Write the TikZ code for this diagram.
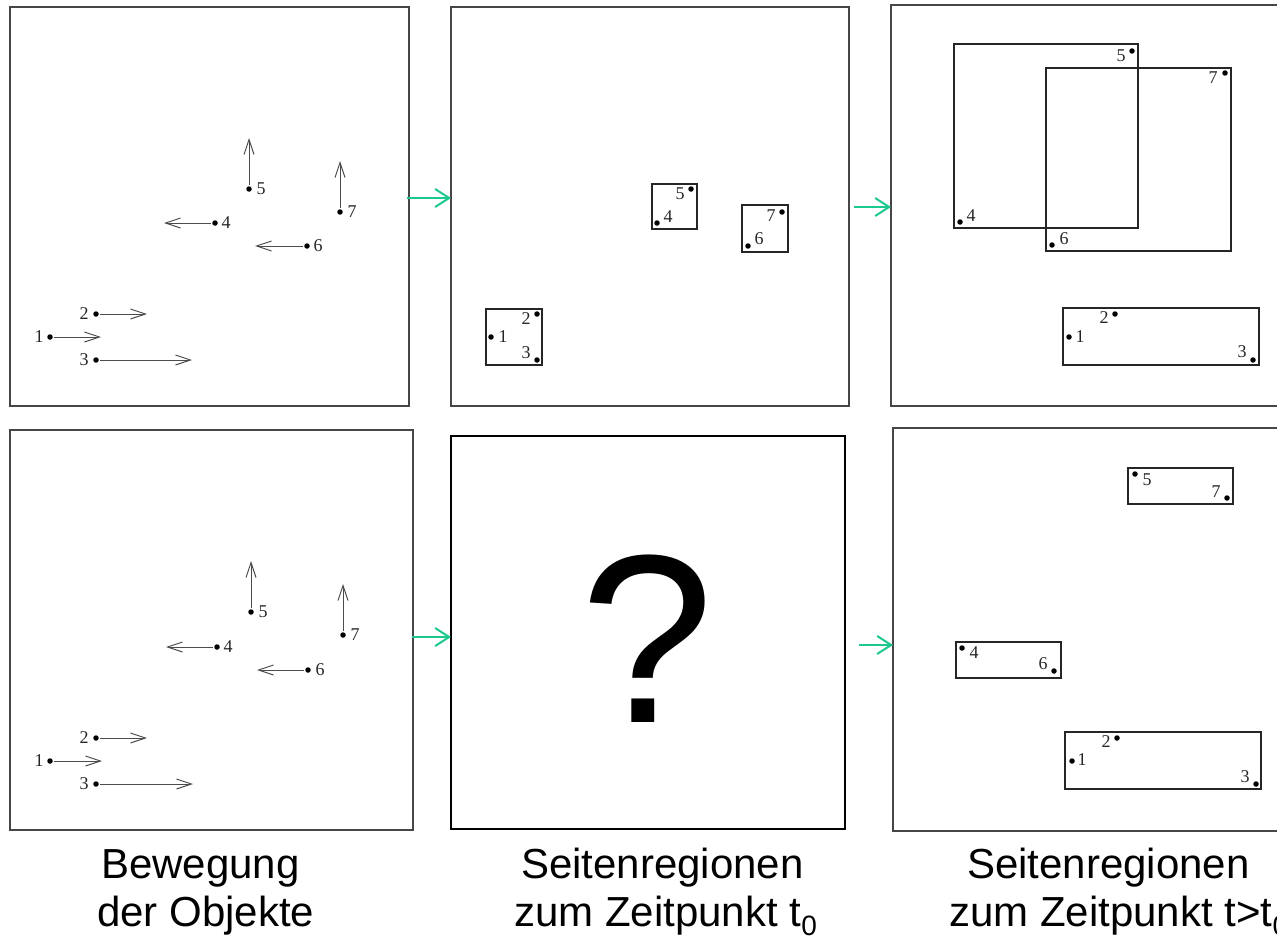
\documentclass[tikz,border=0pt]{standalone}
\usepackage{fontspec}
\setmainfont{Liberation Sans}
\newfontfamily\lbfont{Liberation Serif}
\newfontfamily\capfont{Liberation Sans}
\usetikzlibrary{arrows.meta,calc}
\definecolor{flowgreen}{RGB}{28,200,140}
\definecolor{framegrey}{RGB}{70,70,70}
\newcommand{\subzero}{\raisebox{-0.22em}{\fontsize{28pt}{28pt}\selectfont 0}}
\tikzset{
  panel/.style={draw=framegrey, line width=1.3pt, inner sep=0pt, outer sep=0pt, rectangle},
  bigpanel/.style={draw=black, line width=2.6pt, inner sep=0pt, outer sep=0pt, rectangle},
  region/.style={draw=black!85, line width=1.2pt},
  obj/.style={circle, fill=black, inner sep=0pt, minimum size=5.5pt, outer sep=1.5pt},
  lbl/.style={font={\lbfont\fontsize{18pt}{20pt}\selectfont}, inner sep=0pt, text=black!85},
  mv/.style={draw=black!70, line width=1pt, -{Straight Barb[length=15pt,width=10pt]}},
  flow/.style={draw=flowgreen, line width=2pt, -{Straight Barb[length=14pt,width=18pt]}},
  captext/.style={font={\capfont\fontsize{42pt}{48pt}\selectfont}, inner sep=0pt, anchor=base west},
}
\begin{document}
\begin{tikzpicture}[x=1pt,y=-1pt]
\useasboundingbox (0,0) rectangle (1277,939);
\clip (0,0) rectangle (1277,939);
% panels
\node[panel, minimum width=399pt, minimum height=399pt] (P1) at (209.5,206.5) {};
\node[panel, minimum width=398pt, minimum height=399pt] (P2) at (650,206.5) {};
\node[panel, minimum width=400pt, minimum height=401pt] (P3) at (1091,205.5) {};
\node[panel, minimum width=403pt, minimum height=400pt] (P4) at (211.5,630) {};
\node[bigpanel, minimum width=394pt, minimum height=393pt] (P5) at (648,632.5) {};
\node[panel, minimum width=400pt, minimum height=403pt] (P6) at (1093,629.5) {};

% ---------- top-left: movement ----------
\node[obj] (a1) at (50,337) {};
\node[obj] (a2) at (96,314) {};
\node[obj] (a3) at (96,360) {};
\node[obj] (a4) at (215,223) {};
\node[obj] (a5) at (249,189) {};
\node[obj] (a6) at (307,246) {};
\node[obj] (a7) at (340,212) {};
\coordinate (ta1) at (101,337);
\coordinate (ta2) at (147,314);
\coordinate (ta3) at (192,360);
\coordinate (ta4) at (164,223);
\coordinate (ta5) at (249,138);
\coordinate (ta6) at (255,246);
\coordinate (ta7) at (340,161);
\foreach \i in {1,...,7} { \draw[mv] (a\i) -- (ta\i); }
\node[lbl] (la1) at (39,337) {1};
\node[lbl] (la2) at (84,314) {2};
\node[lbl] (la3) at (84,360) {3};
\node[lbl] (la4) at (226,223) {4};
\node[lbl] (la5) at (261,189) {5};
\node[lbl] (la6) at (318,246) {6};
\node[lbl] (la7) at (352,212) {7};

% ---------- bottom-left: movement ----------
\node[obj] (b1) at (50,761) {};
\node[obj] (b2) at (96,738) {};
\node[obj] (b3) at (96,784) {};
\node[obj] (b4) at (217,647) {};
\node[obj] (b5) at (251,612) {};
\node[obj] (b6) at (308,670) {};
\node[obj] (b7) at (343,635) {};
\coordinate (tb1) at (102,761);
\coordinate (tb2) at (147,738);
\coordinate (tb3) at (193,784);
\coordinate (tb4) at (166,647);
\coordinate (tb5) at (251,561);
\coordinate (tb6) at (257,670);
\coordinate (tb7) at (343,584);
\foreach \i in {1,...,7} { \draw[mv] (b\i) -- (tb\i); }
\node[lbl] (lb1) at (39,761) {1};
\node[lbl] (lb2) at (84,738) {2};
\node[lbl] (lb3) at (84,784) {3};
\node[lbl] (lb4) at (228,647) {4};
\node[lbl] (lb5) at (263,612) {5};
\node[lbl] (lb6) at (320,670) {6};
\node[lbl] (lb7) at (355,635) {7};

% ---------- top-middle: regions at t0 ----------
\draw[region] (652,184) rectangle (697,229);
\draw[region] (742,205) rectangle (788,252);
\draw[region] (486,309) rectangle (542,365);
\node[obj] (c1) at (491,337) {};
\node[obj] (c2) at (537,314) {};
\node[obj] (c3) at (537,360) {};
\node[obj] (c4) at (657,223) {};
\node[obj] (c5) at (691,189) {};
\node[obj] (c6) at (748,246) {};
\node[obj] (c7) at (782,212) {};
\node[lbl] (lc1) at (503,337) {1};
\node[lbl] (lc2) at (526,319) {2};
\node[lbl] (lc3) at (526,353) {3};
\node[lbl] (lc4) at (668,217) {4};
\node[lbl] (lc5) at (680,194) {5};
\node[lbl] (lc6) at (759,239) {6};
\node[lbl] (lc7) at (771,216) {7};

% ---------- top-right: regions at t>t0 ----------
\draw[region] (954,44) rectangle (1138,228);
\draw[region] (1046,68) rectangle (1231,251);
\draw[region] (1063,308) rectangle (1259,365);
\node[obj] (d1) at (1069,337) {};
\node[obj] (d2) at (1115,314) {};
\node[obj] (d3) at (1253,360) {};
\node[obj] (d4) at (960,222) {};
\node[obj] (d5) at (1132,51) {};
\node[obj] (d6) at (1052,245) {};
\node[obj] (d7) at (1225,73) {};
\node[lbl] (ld1) at (1080,337) {1};
\node[lbl] (ld2) at (1104,318) {2};
\node[lbl] (ld3) at (1242,352) {3};
\node[lbl] (ld4) at (971,216) {4};
\node[lbl] (ld5) at (1121,56) {5};
\node[lbl] (ld6) at (1064,239) {6};
\node[lbl] (ld7) at (1213,78) {7};

% ---------- bottom-right: better regions ----------
\draw[region] (1128,468) rectangle (1233,504);
\draw[region] (956,642) rectangle (1061,678);
\draw[region] (1065,732) rectangle (1261,789);
\node[obj] (e1) at (1072,761) {};
\node[obj] (e2) at (1117,738) {};
\node[obj] (e3) at (1256,784) {};
\node[obj] (e4) at (962,648) {};
\node[obj] (e5) at (1135,474) {};
\node[obj] (e6) at (1054,671) {};
\node[obj] (e7) at (1227,498) {};
\node[lbl] (le1) at (1082,760) {1};
\node[lbl] (le2) at (1106,742) {2};
\node[lbl] (le3) at (1245,777) {3};
\node[lbl] (le4) at (974,653) {4};
\node[lbl] (le5) at (1147,480) {5};
\node[lbl] (le6) at (1043,664) {6};
\node[lbl] (le7) at (1216,492) {7};

% ---------- question mark ----------
\node[font={\capfont\fontsize{240pt}{240pt}\selectfont}, inner sep=0pt, anchor=base] (q) at (647,722) {?};

% ---------- green flow arrows ----------
\coordinate (f1) at (407,198);
\coordinate (f2) at (854,207);
\coordinate (f3) at (412,637);
\coordinate (f4) at (859,645);
\draw[flow] (f1) -- (P2.west |- f1);
\draw[flow] (f2) -- (P3.west |- f2);
\draw[flow] (f3) -- (P5.west |- f3);
\draw[flow] (f4) -- (P6.west |- f4);

% ---------- captions ----------
\node[captext] (cap1a) at (101,878) {Bewegung};
\node[captext] (cap1b) at (97,926) {der Objekte};
\node[captext] (cap2a) at (521,878) {Seitenregionen};
\node[captext] (cap2b) at (514,926) {zum Zeitpunkt t\subzero};
\node[captext] (cap3a) at (967,878) {Seitenregionen};
\node[captext] (cap3b) at (949,926) {zum Zeitpunkt t>t\subzero};
\end{tikzpicture}
\end{document}
